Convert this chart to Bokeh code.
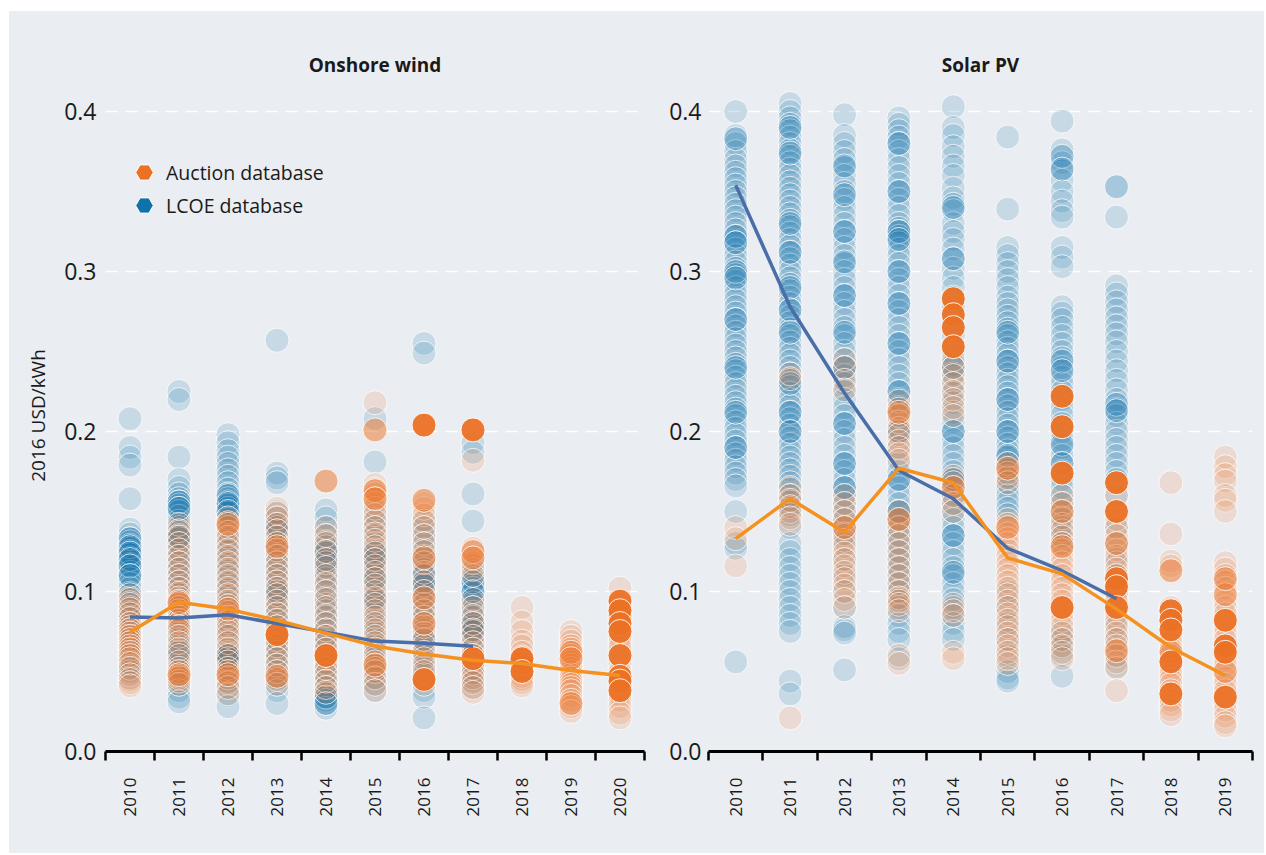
from math import pi
from bokeh.plotting import figure
from bokeh.models import (ColumnDataSource, Range1d, LinearAxis, FixedTicker, NumeralTickFormatter,
                          Legend, LegendItem, Grid)
from bokeh.layouts import row
from bokeh.embed import file_html
from bokeh.resources import INLINE

# ---------------- DATA ----------------
wind_years = [2010, 2011, 2012, 2013, 2014, 2015, 2016, 2017, 2018, 2019, 2020]
solar_years = [2010, 2011, 2012, 2013, 2014, 2015, 2016, 2017, 2018, 2019]

# Onshore wind - LCOE database (individual projects, USD/kWh)
wind_lcoe = {
    2010: [0.208, 0.190, 0.184, 0.179, 0.158, 0.139, 0.136, 0.133, 0.131, 0.129, 0.127, 0.125, 0.123, 0.121,
           0.119, 0.117, 0.115, 0.112, 0.110, 0.108, 0.105, 0.102, 0.099, 0.096, 0.093, 0.090, 0.087, 0.084,
           0.080, 0.076, 0.072, 0.068, 0.064, 0.060, 0.056, 0.053, 0.050, 0.046],
    2011: [0.225, 0.220, 0.184, 0.170, 0.165, 0.161, 0.158, 0.156, 0.154, 0.152, 0.150, 0.147, 0.144, 0.140,
           0.137, 0.135, 0.133, 0.130, 0.126, 0.122, 0.118, 0.114, 0.110, 0.106, 0.102, 0.098, 0.094, 0.090,
           0.086, 0.082, 0.078, 0.074, 0.070, 0.066, 0.062, 0.058, 0.054, 0.050, 0.046, 0.042, 0.038, 0.034, 0.031],
    2012: [0.198, 0.193, 0.188, 0.184, 0.180, 0.176, 0.172, 0.168, 0.164, 0.161, 0.158, 0.156, 0.154, 0.152,
           0.149, 0.145, 0.141, 0.137, 0.133, 0.129, 0.125, 0.121, 0.117, 0.113, 0.109, 0.105, 0.101, 0.097,
           0.093, 0.089, 0.085, 0.081, 0.077, 0.073, 0.069, 0.065, 0.062, 0.060, 0.058, 0.056, 0.052, 0.048,
           0.044, 0.040, 0.035, 0.028],
    2013: [0.257, 0.174, 0.171, 0.168, 0.150, 0.146, 0.142, 0.138, 0.134, 0.130, 0.126, 0.122, 0.118, 0.114,
           0.110, 0.106, 0.102, 0.098, 0.094, 0.090, 0.086, 0.082, 0.078, 0.074, 0.070, 0.066, 0.062, 0.058,
           0.054, 0.050, 0.046, 0.042, 0.038, 0.030],
    2014: [0.151, 0.146, 0.140, 0.135, 0.131, 0.128, 0.124, 0.120, 0.116, 0.112, 0.108, 0.104, 0.100, 0.096,
           0.092, 0.088, 0.084, 0.080, 0.076, 0.072, 0.068, 0.064, 0.060, 0.056, 0.052, 0.048, 0.044, 0.040,
           0.036, 0.034, 0.032, 0.030, 0.027],
    2015: [0.208, 0.181, 0.150, 0.145, 0.140, 0.135, 0.130, 0.126, 0.122, 0.118, 0.114, 0.110, 0.106, 0.102,
           0.098, 0.094, 0.090, 0.086, 0.082, 0.078, 0.074, 0.070, 0.066, 0.062, 0.058, 0.054, 0.050, 0.046,
           0.042, 0.038],
    2016: [0.255, 0.249, 0.145, 0.140, 0.135, 0.130, 0.126, 0.122, 0.118, 0.114, 0.110, 0.107, 0.104, 0.100,
           0.096, 0.092, 0.088, 0.084, 0.080, 0.076, 0.072, 0.068, 0.064, 0.060, 0.056, 0.052, 0.048, 0.044,
           0.038, 0.034, 0.021],
    2017: [0.193, 0.187, 0.161, 0.144, 0.116, 0.112, 0.108, 0.106, 0.104, 0.102, 0.099, 0.096, 0.093, 0.090,
           0.087, 0.084, 0.081, 0.078, 0.075, 0.072, 0.068, 0.064, 0.060, 0.056, 0.052, 0.048, 0.044, 0.040],
}
wind_lcoe_large = {
    2010: [0.133, 0.128, 0.124, 0.120, 0.116, 0.110], 2011: [0.156, 0.152, 0.134, 0.062],
    2012: [0.160, 0.155, 0.150, 0.061, 0.058], 2013: [0.140, 0.100], 2014: [0.125, 0.118, 0.034, 0.030],
    2015: [0.125, 0.120, 0.108, 0.095], 2016: [0.110, 0.104, 0.070], 2017: [0.106, 0.100, 0.080, 0.075],
}

# Onshore wind - Auction database
wind_auction = {
    2010: [0.098, 0.095, 0.092, 0.089, 0.086, 0.083, 0.080, 0.078, 0.076, 0.074, 0.072, 0.070, 0.068, 0.066,
           0.064, 0.062, 0.060, 0.058, 0.055, 0.052, 0.048, 0.045, 0.043, 0.041],
    2011: [0.142, 0.138, 0.134, 0.130, 0.126, 0.122, 0.118, 0.114, 0.110, 0.106, 0.102, 0.099, 0.096, 0.094,
           0.092, 0.090, 0.088, 0.086, 0.084, 0.082, 0.080, 0.078, 0.076, 0.072, 0.068, 0.064, 0.060, 0.056,
           0.052, 0.050, 0.047, 0.046, 0.044, 0.042],
    2012: [0.146, 0.143, 0.140, 0.137, 0.134, 0.130, 0.126, 0.122, 0.118, 0.114, 0.110, 0.106, 0.102, 0.098,
           0.094, 0.091, 0.087, 0.084, 0.081, 0.078, 0.075, 0.072, 0.068, 0.064, 0.060, 0.056, 0.052, 0.050,
           0.046, 0.043, 0.040, 0.036],
    2013: [0.152, 0.149, 0.146, 0.142, 0.138, 0.134, 0.130, 0.126, 0.122, 0.118, 0.114, 0.110, 0.106, 0.102,
           0.098, 0.094, 0.090, 0.086, 0.082, 0.078, 0.070, 0.066, 0.062, 0.058, 0.054, 0.050, 0.045, 0.042],
    2014: [0.140, 0.135, 0.130, 0.125, 0.120, 0.115, 0.110, 0.105, 0.100, 0.095, 0.090, 0.085, 0.080, 0.076,
           0.072, 0.068, 0.064, 0.058, 0.055, 0.052, 0.048, 0.044, 0.040, 0.037],
    2015: [0.218, 0.167, 0.164, 0.161, 0.158, 0.155, 0.152, 0.148, 0.144, 0.140, 0.136, 0.132, 0.128, 0.124,
           0.120, 0.116, 0.112, 0.108, 0.104, 0.100, 0.096, 0.092, 0.088, 0.084, 0.080, 0.076, 0.072, 0.068,
           0.064, 0.060, 0.056, 0.052, 0.050, 0.046, 0.042, 0.038],
    2016: [0.155, 0.152, 0.148, 0.144, 0.140, 0.135, 0.130, 0.125, 0.118, 0.112, 0.106, 0.100, 0.092, 0.088,
           0.084, 0.078, 0.074, 0.070, 0.066, 0.062, 0.058, 0.054, 0.050, 0.042],
    2017: [0.182, 0.127, 0.118, 0.114, 0.110, 0.095, 0.090, 0.085, 0.080, 0.076, 0.072, 0.068, 0.064, 0.060,
           0.055, 0.052, 0.049, 0.046, 0.043, 0.040, 0.037],
    2018: [0.090, 0.081, 0.075, 0.069, 0.066, 0.062, 0.059, 0.057, 0.053, 0.051, 0.049, 0.047, 0.045, 0.043, 0.041],
    2019: [0.075, 0.072, 0.069, 0.066, 0.064, 0.060, 0.056, 0.054, 0.052, 0.050, 0.048, 0.046, 0.044, 0.042,
           0.040, 0.038, 0.035, 0.032, 0.028, 0.025],
    2020: [0.102, 0.092, 0.086, 0.083, 0.077, 0.071, 0.068, 0.065, 0.055, 0.050, 0.041, 0.035, 0.032, 0.028,
           0.024, 0.021],
}
wind_auction_mid = {
    2011: [0.093, 0.048], 2012: [0.142, 0.089, 0.048], 2013: [0.128, 0.047], 2014: [0.169],
    2015: [0.201, 0.163, 0.158, 0.054], 2016: [0.157, 0.121, 0.096, 0.080], 2017: [0.125, 0.121],
    2018: [0.055], 2019: [0.062, 0.058, 0.030], 2020: [0.085],
}
wind_auction_large = {
    2013: [0.073], 2014: [0.060], 2016: [0.204, 0.045], 2017: [0.201, 0.058], 2018: [0.058, 0.050],
    2020: [0.094, 0.088, 0.080, 0.075, 0.060, 0.047, 0.044, 0.038],
}

# Solar PV - LCOE database
solar_lcoe = {
    2010: [0.400, 0.385, 0.380, 0.375, 0.370, 0.366, 0.362, 0.358, 0.354, 0.350, 0.346, 0.342, 0.338, 0.334,
           0.330, 0.326, 0.322, 0.318, 0.314, 0.310, 0.306, 0.302, 0.298, 0.294, 0.290, 0.286, 0.282, 0.278,
           0.274, 0.270, 0.266, 0.262, 0.258, 0.254, 0.250, 0.246, 0.242, 0.238, 0.234, 0.230, 0.226, 0.222,
           0.218, 0.214, 0.210, 0.206, 0.202, 0.198, 0.194, 0.190, 0.186, 0.182, 0.178, 0.174, 0.170, 0.166,
           0.150, 0.130, 0.127, 0.056],
    2011: [0.405, 0.400, 0.396, 0.392, 0.388, 0.384, 0.380, 0.376, 0.372, 0.368, 0.364, 0.360, 0.356, 0.352,
           0.348, 0.344, 0.340, 0.336, 0.332, 0.328, 0.324, 0.320, 0.316, 0.312, 0.308, 0.304, 0.300, 0.296,
           0.292, 0.288, 0.284, 0.280, 0.276, 0.272, 0.268, 0.264, 0.260, 0.256, 0.252, 0.248, 0.244, 0.240,
           0.236, 0.232, 0.228, 0.224, 0.220, 0.216, 0.212, 0.208, 0.204, 0.200, 0.196, 0.192, 0.188, 0.184,
           0.180, 0.176, 0.172, 0.168, 0.164, 0.160, 0.156, 0.152, 0.148, 0.140, 0.130, 0.125, 0.120, 0.115,
           0.110, 0.105, 0.100, 0.095, 0.090, 0.085, 0.080, 0.075, 0.044, 0.036],
    2012: [0.398, 0.385, 0.380, 0.375, 0.370, 0.365, 0.360, 0.355, 0.350, 0.345, 0.340, 0.335, 0.330, 0.325,
           0.320, 0.315, 0.310, 0.305, 0.300, 0.295, 0.290, 0.285, 0.280, 0.275, 0.270, 0.265, 0.260, 0.255,
           0.250, 0.245, 0.240, 0.235, 0.230, 0.225, 0.220, 0.215, 0.210, 0.205, 0.200, 0.195, 0.190, 0.185,
           0.180, 0.175, 0.170, 0.165, 0.160, 0.155, 0.150, 0.145, 0.140, 0.135, 0.130, 0.120, 0.110, 0.100,
           0.090, 0.078, 0.076, 0.074, 0.051],
    2013: [0.396, 0.392, 0.388, 0.384, 0.380, 0.375, 0.370, 0.365, 0.360, 0.355, 0.350, 0.345, 0.340, 0.335,
           0.330, 0.327, 0.325, 0.322, 0.318, 0.314, 0.310, 0.305, 0.300, 0.295, 0.290, 0.285, 0.280, 0.275,
           0.270, 0.265, 0.260, 0.255, 0.250, 0.245, 0.240, 0.235, 0.230, 0.225, 0.220, 0.215, 0.210, 0.200,
           0.190, 0.180, 0.175, 0.170, 0.165, 0.160, 0.155, 0.150, 0.145, 0.140, 0.135, 0.130, 0.125, 0.120,
           0.115, 0.110, 0.105, 0.100, 0.095, 0.090, 0.085, 0.080, 0.075, 0.070, 0.058],
    2014: [0.403, 0.390, 0.385, 0.378, 0.372, 0.366, 0.360, 0.352, 0.346, 0.342, 0.338, 0.330, 0.325, 0.320,
           0.314, 0.308, 0.302, 0.296, 0.290, 0.284, 0.278, 0.272, 0.266, 0.260, 0.254, 0.248, 0.242, 0.236,
           0.230, 0.224, 0.218, 0.212, 0.206, 0.200, 0.195, 0.190, 0.185, 0.180, 0.175, 0.170, 0.165, 0.160,
           0.155, 0.150, 0.145, 0.140, 0.135, 0.130, 0.125, 0.120, 0.115, 0.110, 0.105, 0.100, 0.095, 0.090,
           0.085, 0.080, 0.075, 0.070],
    2015: [0.384, 0.339, 0.315, 0.310, 0.305, 0.300, 0.295, 0.290, 0.284, 0.280, 0.276, 0.272, 0.268, 0.264,
           0.260, 0.256, 0.252, 0.248, 0.244, 0.240, 0.236, 0.232, 0.228, 0.224, 0.220, 0.216, 0.212, 0.208,
           0.204, 0.200, 0.196, 0.192, 0.188, 0.184, 0.180, 0.176, 0.172, 0.168, 0.164, 0.160, 0.156, 0.152,
           0.148, 0.100, 0.090, 0.080, 0.070, 0.060, 0.050, 0.046, 0.044],
    2016: [0.394, 0.376, 0.368, 0.363, 0.357, 0.350, 0.344, 0.338, 0.334, 0.315, 0.309, 0.303, 0.278, 0.274,
           0.270, 0.265, 0.260, 0.255, 0.250, 0.246, 0.240, 0.234, 0.230, 0.225, 0.220, 0.215, 0.210, 0.205,
           0.200, 0.195, 0.190, 0.185, 0.180, 0.175, 0.170, 0.165, 0.160, 0.155, 0.150, 0.145, 0.140, 0.135,
           0.130, 0.075, 0.070, 0.065, 0.060, 0.047],
    2017: [0.334, 0.291, 0.286, 0.281, 0.276, 0.271, 0.266, 0.261, 0.256, 0.250, 0.244, 0.238, 0.232, 0.226,
           0.220, 0.214, 0.210, 0.205, 0.200, 0.195, 0.190, 0.185, 0.180, 0.175, 0.170, 0.160, 0.150, 0.140,
           0.130, 0.120, 0.110, 0.100, 0.090, 0.080, 0.070, 0.060, 0.053],
}
solar_lcoe_large = {
    2010: [0.383, 0.322, 0.318, 0.300, 0.296, 0.270, 0.240, 0.212, 0.190],
    2011: [0.390, 0.374, 0.330, 0.312, 0.290, 0.276, 0.262, 0.230, 0.212, 0.200],
    2012: [0.366, 0.348, 0.325, 0.306, 0.285, 0.262, 0.240, 0.205, 0.180, 0.165],
    2013: [0.380, 0.350, 0.325, 0.320, 0.300, 0.280, 0.255, 0.225, 0.200, 0.170, 0.150],
    2014: [0.340, 0.308, 0.240, 0.200, 0.170, 0.135, 0.112],
    2015: [0.262, 0.244, 0.220, 0.200, 0.185],
    2016: [0.372, 0.364, 0.244, 0.238, 0.192, 0.180],
    2017: [0.353, 0.217, 0.213],
}

# Solar PV - Auction database
solar_auction = {
    2010: [0.140, 0.133, 0.116],
    2011: [0.236, 0.233, 0.165, 0.160, 0.157, 0.153, 0.150, 0.146, 0.142, 0.021],
    2012: [0.245, 0.240, 0.232, 0.226, 0.160, 0.155, 0.150, 0.145, 0.136, 0.132, 0.128, 0.124, 0.120,
           0.116, 0.112, 0.108, 0.104, 0.100, 0.095, 0.090],
    2013: [0.219, 0.214, 0.210, 0.206, 0.202, 0.198, 0.194, 0.190, 0.186, 0.182, 0.150, 0.140, 0.135,
           0.130, 0.125, 0.120, 0.115, 0.110, 0.105, 0.100, 0.096, 0.094, 0.092, 0.088, 0.060, 0.055],
    2014: [0.245, 0.240, 0.235, 0.230, 0.225, 0.220, 0.215, 0.210, 0.172, 0.168, 0.160, 0.155, 0.150,
           0.092, 0.088, 0.085, 0.062, 0.058],
    2015: [0.180, 0.174, 0.171, 0.168, 0.145, 0.142, 0.136, 0.133, 0.130, 0.126, 0.122, 0.118, 0.114,
           0.110, 0.106, 0.102, 0.098, 0.094, 0.090, 0.086, 0.082, 0.078, 0.074, 0.070, 0.066, 0.062,
           0.058, 0.055],
    2016: [0.160, 0.155, 0.146, 0.142, 0.138, 0.134, 0.130, 0.126, 0.122, 0.118, 0.114, 0.110, 0.106,
           0.102, 0.098, 0.094, 0.086, 0.082, 0.078, 0.074, 0.070, 0.066, 0.062, 0.058],
    2017: [0.160, 0.145, 0.140, 0.135, 0.126, 0.122, 0.118, 0.114, 0.110, 0.106, 0.098, 0.094, 0.086,
           0.082, 0.078, 0.074, 0.070, 0.066, 0.060, 0.056, 0.052, 0.038],
    2018: [0.168, 0.136, 0.119, 0.116, 0.090, 0.084, 0.078, 0.072, 0.068, 0.064, 0.060, 0.054, 0.051,
           0.048, 0.045, 0.042, 0.038, 0.032, 0.029, 0.026, 0.023],
    2019: [0.184, 0.178, 0.173, 0.169, 0.160, 0.157, 0.150, 0.118, 0.114, 0.110, 0.106, 0.102, 0.094,
           0.090, 0.086, 0.078, 0.074, 0.070, 0.058, 0.054, 0.046, 0.042, 0.038, 0.030, 0.026, 0.022,
           0.018, 0.016],
}
solar_auction_mid = {
    2012: [0.140], 2013: [0.212, 0.145], 2014: [0.165], 2015: [0.177, 0.140],
    2016: [0.150, 0.128], 2017: [0.063, 0.130], 2018: [0.113, 0.062], 2019: [0.098, 0.108, 0.050],
}
solar_auction_large = {
    2014: [0.283, 0.273, 0.265, 0.253], 2016: [0.222, 0.203, 0.174, 0.090],
    2017: [0.168, 0.150, 0.108, 0.103, 0.090], 2018: [0.088, 0.082, 0.076, 0.056, 0.036],
    2019: [0.082, 0.066, 0.062, 0.034],
}

# Weighted averages
wind_lcoe_avg_years = [2010, 2011, 2012, 2013, 2014, 2015, 2016, 2017]
wind_lcoe_avg = [0.084, 0.0835, 0.0855, 0.080, 0.0746, 0.069, 0.0677, 0.0658]
wind_auction_avg = [0.0746, 0.0933, 0.089, 0.082, 0.074, 0.066, 0.061, 0.057, 0.055, 0.0506, 0.0475]
solar_lcoe_avg_years = [2010, 2011, 2012, 2013, 2014, 2015, 2016, 2017]
solar_lcoe_avg = [0.354, 0.278, 0.224, 0.1756, 0.158, 0.127, 0.113, 0.0955]
solar_auction_avg = [0.133, 0.158, 0.137, 0.177, 0.168, 0.121, 0.111, 0.089, 0.065, 0.0475]

y_ticks = [0.0, 0.1, 0.2, 0.3, 0.4]

# ---------------- STYLE ----------------
BG = "#eaedf1"
BLUE = "#0e72ab"
ORANGE = "#eb7125"
BLUE_LINE = "#4a6fa8"
ORANGE_LINE = "#f5911f"
FONT = "Open Sans"
TXT = "#1a1a1a"
HEIGHT = 842


def to_source(d):
    xs, ys = [], []
    for yr, vals in d.items():
        xs += [yr] * len(vals)
        ys += vals
    return ColumnDataSource(dict(x=xs, y=ys))


def make_panel(title, years, lcoe, lcoe_large, auc, auc_mid, auc_large,
               lcoe_avg_years, lcoe_avg, auc_avg, width, bl, br, ylabel=None, legend=False):
    p = figure(width=width, height=HEIGHT, title=title,
               x_range=Range1d(years[0] - 0.5, years[-1] + 0.5), y_range=Range1d(0, 0.42),
               x_axis_type=None, y_axis_type=None, output_backend="svg", toolbar_location=None,
               min_border_left=bl, min_border_right=br, min_border_top=68, min_border_bottom=102,
               background_fill_color=BG, border_fill_color=BG, outline_line_color=None)
    p.title.align = "center"
    p.title.text_font = FONT
    p.title.text_font_size = "19px"
    p.title.text_font_style = "bold"
    p.title.text_color = TXT
    p.title.standoff = 3

    p.add_layout(Grid(dimension=1, ticker=FixedTicker(ticks=y_ticks[1:]), grid_line_color="white",
                      grid_line_width=1.5, grid_line_dash="12 8"))

    yax = LinearAxis(ticker=FixedTicker(ticks=y_ticks), formatter=NumeralTickFormatter(format="0.0"),
                     axis_line_color=None, major_tick_line_color=None, minor_tick_line_color=None,
                     major_tick_out=0, major_tick_in=0,
                     major_label_standoff=9 if ylabel else 7, major_label_text_font_size="23px",
                     major_label_text_font=FONT, major_label_text_color=TXT)
    if ylabel:
        yax.axis_label = ylabel
        yax.axis_label_text_font = FONT
        yax.axis_label_text_font_size = "19px"
        yax.axis_label_text_font_style = "normal"
        yax.axis_label_text_color = TXT
        yax.axis_label_standoff = 10
    p.add_layout(yax, "left")

    bounds = [y - 0.5 for y in years] + [years[-1] + 0.5]
    xax = LinearAxis(ticker=FixedTicker(ticks=years, minor_ticks=bounds),
                     axis_line_width=3, axis_line_color="black",
                     major_tick_line_color=None, major_tick_out=0, major_tick_in=0,
                     minor_tick_line_color="black", minor_tick_line_width=2.5,
                     minor_tick_out=9, minor_tick_in=0,
                     major_label_orientation=pi / 2,
                     major_label_overrides={y: str(y) for y in years},
                     major_label_standoff=17, major_label_text_font=FONT,
                     major_label_text_font_size="17px", major_label_text_color=TXT)
    p.add_layout(xax, "below")

    kw = dict(size=24, marker="circle", line_color="white", line_width=1)
    p.scatter("x", "y", source=to_source(lcoe), fill_color=BLUE, fill_alpha=0.16, line_alpha=0.75, **kw)
    lcoe_large_src = to_source(lcoe_large)
    p.scatter("x", "y", source=lcoe_large_src, fill_color=BLUE, fill_alpha=0.3, line_alpha=0.8, **kw)
    p.scatter("x", "y", source=to_source(auc), fill_color=ORANGE, fill_alpha=0.15, line_alpha=0.75, **kw)
    p.scatter("x", "y", source=to_source(auc_mid), fill_color=ORANGE, fill_alpha=0.5, line_alpha=0.8, **kw)
    auc_large_src = to_source(auc_large)
    p.scatter("x", "y", source=auc_large_src, fill_color=ORANGE, fill_alpha=0.95, line_alpha=0.9, **kw)

    p.line(lcoe_avg_years, lcoe_avg, line_color=BLUE_LINE, line_width=3.5)
    p.line(years, auc_avg, line_color=ORANGE_LINE, line_width=3.5)

    if legend:
        # hidden renderers used only to draw the hexagon keys
        ra = p.scatter("x", "y", source=auc_large_src, marker="hex", angle=pi / 2, size=18,
                       fill_color=ORANGE, fill_alpha=1, line_color="white", line_width=1, visible=False)
        rb = p.scatter("x", "y", source=lcoe_large_src, marker="hex", angle=pi / 2, size=18,
                       fill_color=BLUE, fill_alpha=1, line_color="white", line_width=1, visible=False)
        for label, r, yoff in [("Auction database", ra, 557), ("LCOE database", rb, 524)]:
            lg = Legend(items=[LegendItem(label=label, renderers=[r])], location=(17, yoff),
                        glyph_width=44, glyph_height=44, label_standoff=0, padding=0, margin=0,
                        spacing=0, border_line_color=None, background_fill_alpha=0,
                        inactive_fill_alpha=0,
                        label_text_font=FONT, label_text_font_size="19.5px", label_text_color=TXT)
            p.add_layout(lg)
    return p


left = make_panel("Onshore wind", wind_years, wind_lcoe, wind_lcoe_large, wind_auction, wind_auction_mid,
                  wind_auction_large, wind_lcoe_avg_years, wind_lcoe_avg, wind_auction_avg,
                  width=657, bl=96, br=22, ylabel="2016 USD/kWh", legend=True)
right = make_panel("Solar PV", solar_years, solar_lcoe, solar_lcoe_large, solar_auction, solar_auction_mid,
                   solar_auction_large, solar_lcoe_avg_years, solar_lcoe_avg, solar_auction_avg,
                   width=598, bl=42, br=12)

layout = row(left, right, spacing=0, margin=(11, 0, 0, 9), styles={"background-color": BG})
open("out.html", "w").write(file_html(layout, INLINE))
